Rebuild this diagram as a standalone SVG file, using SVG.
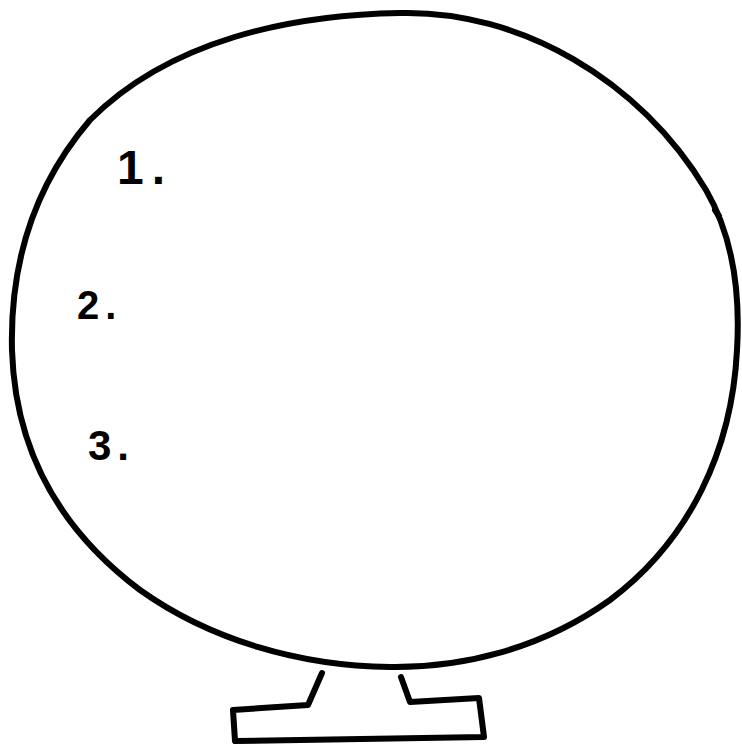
<svg xmlns="http://www.w3.org/2000/svg" width="742" height="748" viewBox="0 0 742 748">
<style>
.ln{fill:none;stroke:#000;stroke-width:6;stroke-linejoin:round;stroke-linecap:round}
.num{font-family:"Liberation Sans",Arial,sans-serif;fill:#000;font-weight:bold}
</style>
<rect width="742" height="748" fill="#fff"/>
<g id="ball">
<path class="ln" d="M400,13 C520,10 640,80 706,190 C735,240 740,300 737,350 C732,450 690,540 610,600 C540,650 460,668 390,667 C300,666 210,640 140,590 C60,530 15,450 12,350 C10,270 30,190 90,120 C170,40 290,15 400,13 Z"/>
<path class="ln" d="M715,210 L719,216"/>
</g>
<g id="stand">
<path class="ln" d="M322,673 L308,705 L233,710 L235,741 L484,737 L479,698 L410,702 L401,677"/>
</g>
<g id="labels">
<text class="num" x="117" y="184" font-size="48" letter-spacing="8">1.</text>
<text class="num" x="77" y="319" font-size="40" letter-spacing="6">2.</text>
<text class="num" x="88" y="460" font-size="42" letter-spacing="6">3.</text>
</g>
</svg>
